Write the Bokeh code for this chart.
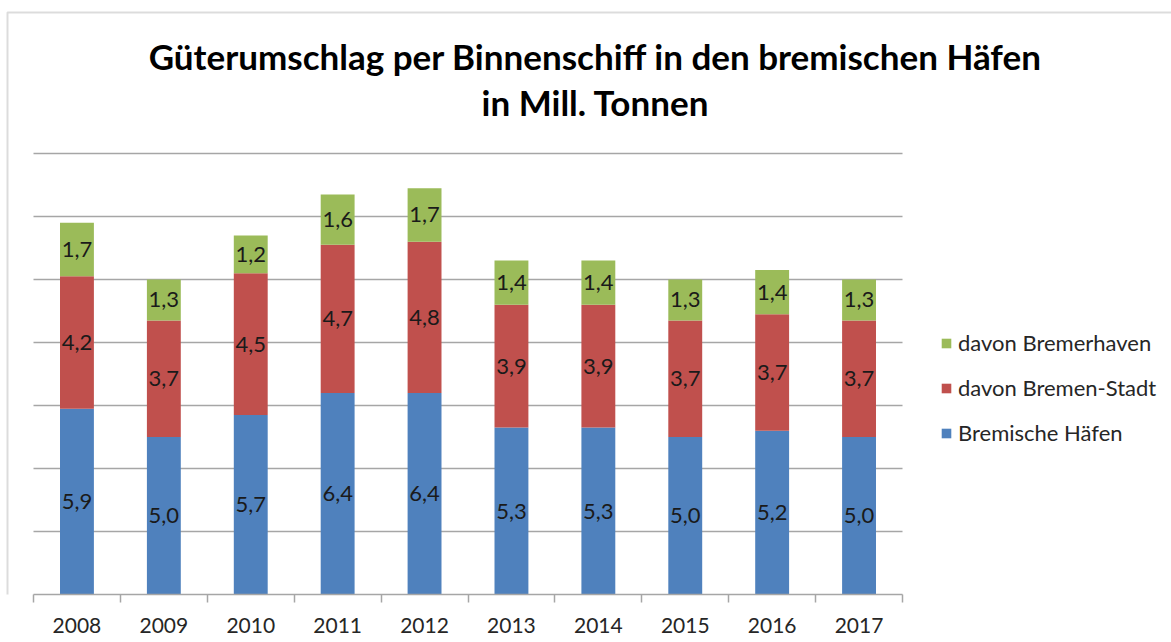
from bokeh.plotting import figure
from bokeh.models import ColumnDataSource, FixedTicker, Legend, LegendItem, Label, BoxAnnotation, Range1d
from bokeh.core.properties import value
from bokeh.embed import file_html
from bokeh.resources import INLINE

years = ["2008", "2009", "2010", "2011", "2012", "2013", "2014", "2015", "2016", "2017"]
bremische_haefen = [5.9, 5.0, 5.7, 6.4, 6.4, 5.3, 5.3, 5.0, 5.2, 5.0]
bremen_stadt = [4.2, 3.7, 4.5, 4.7, 4.8, 3.9, 3.9, 3.7, 3.7, 3.7]
bremerhaven = [1.7, 1.3, 1.2, 1.6, 1.7, 1.4, 1.4, 1.3, 1.4, 1.3]
series_names = ["Bremische Häfen", "davon Bremen-Stadt", "davon Bremerhaven"]
colors = ["#4F81BD", "#C0504D", "#9BBB59"]
title_lines = ["Güterumschlag per Binnenschiff in den bremischen Häfen", "in Mill. Tonnen"]
y_grid = [2, 4, 6, 8, 10, 12, 14]

FONT = "Lato"
W, H = 1171, 642
n = len(years)
xs = [i + 0.5 for i in range(n)]

# layout geometry (pixels)
PLOT_L, PLOT_R, PLOT_B, PLOT_T = 33, 902, 594, 153
PXX = (PLOT_R - PLOT_L) / n          # px per category
PXY = (PLOT_B - PLOT_T) / y_grid[-1]  # px per unit
x_start = -PLOT_L / PXX
x_end = x_start + W / PXX
y_end = PLOT_B / PXY

def cx(px):
    return x_start + px / PXX

def cy(py):
    return (PLOT_B - py) / PXY

src = ColumnDataSource(dict(x=xs, s0=bremische_haefen, s1=bremen_stadt, s2=bremerhaven))

p = figure(width=W, height=H, output_backend="svg", toolbar_location=None,
           x_range=Range1d(x_start, x_end), y_range=Range1d(0, y_end),
           min_border_left=0, min_border_right=0, min_border_top=0, min_border_bottom=H - PLOT_B,
           y_axis_location=None)
p.outline_line_color = None
p.background_fill_color = "white"
p.border_fill_color = "white"
p.xgrid.grid_line_color = None
p.ygrid.grid_line_color = None

# outer frame
p.add_layout(BoxAnnotation(left=cx(7), right=x_end + 5, top=cy(12), bottom=-5,
                           fill_alpha=0, line_color="#8C8C8C", line_width=2))

# horizontal grid lines (plot area only)
p.segment(x0=[0] * len(y_grid), x1=[n] * len(y_grid), y0=y_grid, y1=y_grid,
          line_color="#A6A6A6", line_width=1.5)

rs = p.vbar_stack(["s0", "s1", "s2"], x="x", width=0.39, source=src,
                  color=colors, line_color=None)

# value labels
lx, ly, lt = [], [], []
for i in range(n):
    base = 0.0
    for vals in (bremische_haefen, bremen_stadt, bremerhaven):
        v = vals[i]
        lx.append(xs[i])
        ly.append(base + v / 2)
        lt.append(f"{v:.1f}".replace(".", ","))
        base += v
p.text(x=lx, y=ly, text=lt, text_align="center", text_baseline="middle",
       text_font=value(FONT), text_font_size="22px", text_color="#1a1a1a")

# x axis: labels at centers, tick marks at boundaries
ax = p.xaxis[0]
ax.bounds = (0, n)
ax.ticker = FixedTicker(ticks=xs, minor_ticks=list(range(n + 1)))
ax.major_label_overrides = {x: y for x, y in zip(xs, years)}
ax.major_tick_out = 0
ax.major_tick_in = 0
ax.minor_tick_out = 8
ax.minor_tick_in = 0
ax.minor_tick_line_color = "#A6A6A6"
ax.minor_tick_line_width = 1.5
ax.axis_line_color = "#A6A6A6"
ax.axis_line_width = 1.5
ax.major_label_text_font = FONT
ax.major_label_text_font_size = "21px"
ax.major_label_text_color = "#262626"
ax.major_label_standoff = 15

# legend
items = [LegendItem(label=series_names[2], renderers=[rs[2]]),
         LegendItem(label=series_names[1], renderers=[rs[1]]),
         LegendItem(label=series_names[0], renderers=[rs[0]])]
leg = Legend(items=items, location=(940, PLOT_B - 446), glyph_width=12, glyph_height=12,
             label_standoff=6, label_height=22, spacing=18, padding=0, margin=0,
             border_line_color=None, background_fill_alpha=0,
             label_text_font=FONT, label_text_font_size="22px", label_text_color="#262626")
p.add_layout(leg, "center")

# title
for txt, py in zip(title_lines, [55, 101]):
    p.add_layout(Label(x=cx(595), y=cy(py), text=txt, text_align="center", text_baseline="middle",
                       text_font=FONT, text_font_size="35px", text_font_style="bold",
                       text_color="black"))

open("out.html", "w").write(file_html(p, INLINE))
